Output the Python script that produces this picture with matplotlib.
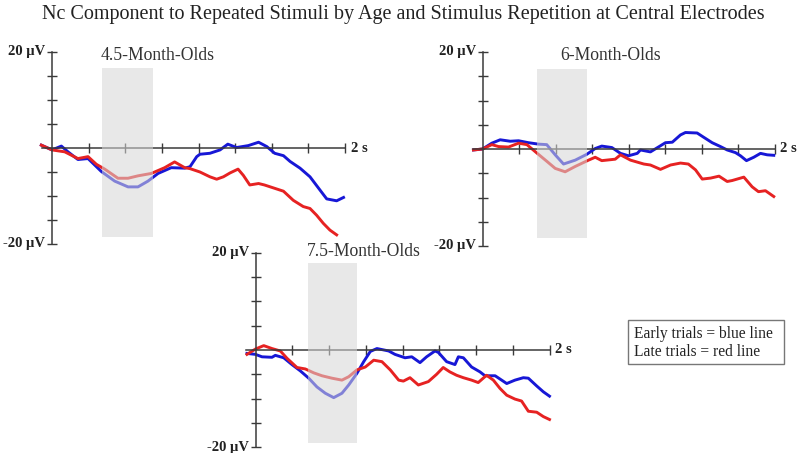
import numpy as np
import matplotlib
matplotlib.use("Agg")
import matplotlib.pyplot as plt

plt.rcParams['font.family'] = ['Liberation Serif', 'DejaVu Serif']

title = "Nc Component to Repeated Stimuli by Age and Stimulus Repetition at Central Electrodes"
panel_titles = ["4.5-Month-Olds", "6-Month-Olds", "7.5-Month-Olds"]
legend_lines = ["Early trials = blue line", "Late trials = red line"]

# ---- 4.5-month-olds ----
t45_blue = [-0.073, 0.0, 0.064, 0.109, 0.177, 0.246, 0.337, 0.428, 0.519, 0.587, 0.655, 0.724,
            0.814, 0.906, 0.942, 0.988, 1.01, 1.078, 1.147, 1.20, 1.26, 1.34, 1.41, 1.466, 1.52,
            1.58, 1.625, 1.693, 1.761, 1.829, 1.875, 1.943, 1.99]
v45_blue = [0.6, -0.4, 0.4, -0.8, -2.4, -2.2, -4.9, -6.9, -8.1, -8.1, -6.9, -5.3,
            -4.1, -4.2, -3.9, -1.8, -1.3, -1.1, -0.4, 0.8, 0.1, 0.5, 1.2, 0.3, -1.1,
            -1.6, -2.8, -4.2, -6.0, -8.75, -10.6, -11.0, -10.3]
t45_red = [-0.073, 0.0, 0.087, 0.177, 0.246, 0.303, 0.36, 0.45, 0.519, 0.587, 0.678, 0.769,
           0.837, 0.906, 0.942, 1.01, 1.078, 1.124, 1.17, 1.215, 1.27, 1.306, 1.35, 1.41, 1.45,
           1.51, 1.58, 1.647, 1.715, 1.761, 1.806, 1.852, 1.897, 1.943]
v45_red = [0.6, -0.4, -0.8, -2.2, -1.8, -3.4, -4.4, -6.3, -6.3, -5.8, -5.3, -4.1,
           -2.9, -4.1, -4.3, -5.0, -6.0, -6.5, -6.0, -5.2, -4.4, -5.7, -7.7, -7.4, -7.7,
           -8.3, -9.0, -10.9, -12.2, -12.6, -14.0, -15.7, -17.1, -18.1]

# ---- 6-month-olds ----
t6_blue = [-0.062, 0.0, 0.064, 0.121, 0.19, 0.247, 0.315, 0.384, 0.44, 0.498, 0.555, 0.635,
           0.714, 0.772, 0.817, 0.886, 0.945, 1.00, 1.06, 1.082, 1.15, 1.21, 1.253, 1.30,
           1.356, 1.39, 1.47, 1.516, 1.573, 1.63, 1.676, 1.733, 1.767, 1.808, 1.858, 1.904,
           1.95, 1.995]
v6_blue = [-0.2, 0.0, 1.2, 1.9, 1.6, 1.7, 1.3, 1.0, 0.9, -1.2, -3.1, -2.3,
           -1.1, 0.1, 0.6, 0.3, -0.9, -1.4, -0.9, -0.2, -0.6, 0.5, 1.3, 1.4,
           2.9, 3.4, 3.3, 2.4, 1.3, 0.5, -0.2, -0.75, -1.4, -2.4, -1.7, -0.9,
           -1.2, -1.3]
t6_red = [-0.062, 0.0, 0.064, 0.11, 0.178, 0.247, 0.304, 0.375, 0.443, 0.498, 0.566, 0.635,
          0.726, 0.772, 0.817, 0.909, 0.945, 1.014, 1.105, 1.15, 1.219, 1.288, 1.356, 1.41,
          1.459, 1.505, 1.562, 1.62, 1.676, 1.71, 1.79, 1.847, 1.89, 1.938, 1.995]
v6_red = [-0.2, 0.0, 0.9, 0.5, 0.4, 1.2, 0.9, -0.9, -2.6, -4.0, -4.7, -3.6,
          -2.3, -1.7, -2.4, -2.1, -1.2, -2.3, -3.1, -3.3, -4.2, -3.3, -2.9, -3.1,
          -4.3, -6.2, -6.0, -5.6, -6.7, -6.5, -5.8, -7.8, -8.8, -8.6, -9.8]

# ---- 7.5-month-olds ----
t75_blue = [-0.058, 0.0, 0.044, 0.112, 0.135, 0.192, 0.248, 0.305, 0.362, 0.418, 0.475, 0.532,
            0.588, 0.634, 0.69, 0.736, 0.781, 0.826, 0.906, 0.949, 1.017, 1.063, 1.119, 1.164,
            1.221, 1.244, 1.30, 1.357, 1.38, 1.414, 1.47, 1.527, 1.561, 1.63, 1.709, 1.765,
            1.822, 1.856, 1.913, 1.958, 2.0]
v75_blue = [-0.7, -0.9, -1.4, -1.5, -1.1, -1.6, -3.0, -4.3, -5.8, -7.6, -8.9, -9.8,
            -8.9, -7.2, -4.8, -2.4, -0.3, 0.3, -0.2, -0.9, -1.6, -1.4, -2.6, -1.4,
            -0.2, -0.5, -2.4, -3.0, -1.4, -1.6, -3.5, -4.5, -5.3, -5.3, -6.9, -6.2,
            -5.7, -5.8, -7.4, -8.6, -9.5]
t75_red = [-0.058, 0.0, 0.056, 0.112, 0.169, 0.214, 0.282, 0.339, 0.396, 0.452, 0.52, 0.588,
           0.634, 0.69, 0.747, 0.804, 0.86, 0.917, 0.974, 1.006, 1.051, 1.108, 1.176, 1.232,
           1.277, 1.322, 1.368, 1.414, 1.47, 1.515, 1.572, 1.618, 1.663, 1.709, 1.765, 1.81,
           1.856, 1.913, 1.958, 2.0]
v75_red = [-0.9, 0.2, 0.9, 0.3, -0.2, -1.7, -3.6, -3.9, -4.7, -5.3, -5.8, -6.2,
           -5.5, -4.1, -3.5, -2.1, -2.4, -4.1, -6.2, -6.4, -5.7, -7.2, -6.5, -5.0,
           -3.6, -4.5, -5.2, -5.7, -6.2, -6.7, -5.2, -6.2, -7.9, -9.3, -10.1, -10.5,
           -12.6, -12.8, -13.7, -14.3]

# shaded window (s) and extent (µV) per panel
shade_t = [(0.34, 0.687), (0.375, 0.717), (0.355, 0.688)]
shade_v = [(-18.5, 16.6), (-18.4, 16.5), (-19.1, 18.0)]

# panel geometry in pixels: y-axis x, zero-line y, px per second, px per µV
geom = [(52, 148, 146.5, 4.8), (482.5, 149, 146.0, 4.85), (255.5, 350, 147.0, 4.86)]

W, H = 800, 453
fig = plt.figure(figsize=(W / 100, H / 100), dpi=100)

fig.text(403 / W, 1 - 15 / H, title, ha='center', va='center', fontsize=14.5, color='#222222')

blue = '#1717d6'
red = '#e62222'
axc = '#3a3a3a'

data = [(t45_blue, v45_blue, t45_red, v45_red),
        (t6_blue, v6_blue, t6_red, v6_red),
        (t75_blue, v75_blue, t75_red, v75_red)]

tmin, tmax = -0.2, 2.35
vmin, vmax = -23, 23
for i, ((x0, y0, sx, sy), (tb, vb, tr, vr)) in enumerate(zip(geom, data)):
    left = x0 + tmin * sx
    width = (tmax - tmin) * sx
    top = y0 - vmax * sy
    height = (vmax - vmin) * sy
    ax = fig.add_axes([left / W, 1 - (top + height) / H, width / W, height / H])
    ax.patch.set_alpha(0)
    ax.set_xlim(tmin, tmax)
    ax.set_ylim(vmin, vmax)

    ax.plot(tb, vb, color=blue, lw=2.1, zorder=2, solid_joinstyle='round')
    ax.plot(tr, vr, color=red, lw=2.1, zorder=2.1, solid_joinstyle='round')

    a, b = shade_t[i]
    lo, hi = shade_v[i]
    ax.fill_between([a, b], [lo, lo], [hi, hi], color='#d6d6d6', alpha=0.56, lw=0, zorder=3)

    for s in ('top', 'right'):
        ax.spines[s].set_visible(False)
    ax.spines['left'].set_position(('data', 0))
    ax.spines['bottom'].set_position(('data', 0))
    ax.spines['left'].set_bounds(-20, 20)
    ax.spines['bottom'].set_bounds(-0.065, 2.0)
    for s in ('left', 'bottom'):
        ax.spines[s].set_color(axc)
        ax.spines[s].set_linewidth(1.1)
    ax.set_yticks([-20, -15, -10, -5, 5, 10, 15, 20])
    ax.set_xticks(np.arange(0.25, 2.01, 0.25))
    ax.set_yticklabels([])
    ax.set_xticklabels([])
    ax.tick_params(axis='both', direction='inout', length=6.5, width=1.0, color=axc)

    ax.text(-0.045, 20, "20 µV", ha='right', va='center', fontsize=10.5,
            fontweight='bold', color='#222222')
    ax.text(-0.045, -20, "-20 µV", ha='right', va='center', fontsize=10.5,
            fontweight='bold', color='#222222')
    ax.text(2.04, 0, "2 s", ha='left', va='center', fontsize=10.5,
            fontweight='bold', color='#222222')

    tx = [(158 - x0) / sx, (611 - x0) / sx, (364 - x0) / sx][i]
    ty = [(y0 - 55) / sy, (y0 - 56) / sy, (y0 - 251.7) / sy][i]
    ax.text(tx, ty, panel_titles[i], ha='center', va='center', fontsize=12.7, color='#333333')

# legend box
fig.patches.append(plt.Rectangle((627.5 / W, 1 - 363.5 / H), (784 - 627.5) / W, (363.5 - 319.5) / H,
                                 transform=fig.transFigure, fill=False, edgecolor='#777777', lw=1.0))
fig.text(634 / W, 1 - 333.5 / H, legend_lines[0], ha='left', va='center', fontsize=11.2, color='#222222')
fig.text(634 / W, 1 - 351.5 / H, legend_lines[1], ha='left', va='center', fontsize=11.2, color='#222222')

fig.savefig("out.png", dpi=100)
